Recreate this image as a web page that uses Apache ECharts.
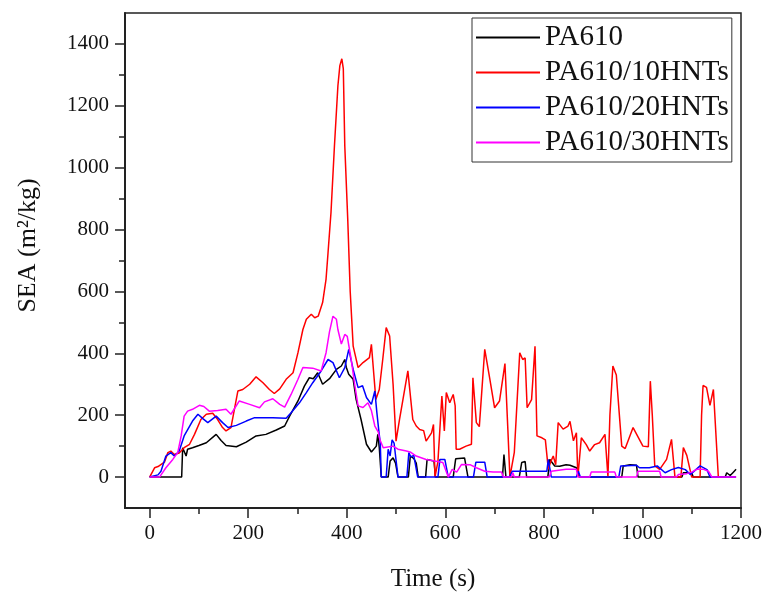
<!DOCTYPE html>
<html>
<head>
<meta charset="utf-8">
<script src="https://cdn.jsdelivr.net/npm/echarts@6/dist/echarts.min.js"></script>
<style>html,body{margin:0;padding:0;background:#fff;}#c{width:771px;height:604px;}</style>
</head>
<body>
<div id="c"></div>
<script>
var seriesNames = ['PA610', 'PA610/10HNTs', 'PA610/20HNTs', 'PA610/30HNTs'];
var xTicks = [0, 200, 400, 600, 800, 1000, 1200];
var yTicks = [0, 200, 400, 600, 800, 1000, 1200, 1400];

var tBlack = [0,65,67,74,77,87,100,115,135,145,155,176,196,216,236,257,274,284,301,314,324,332,341,351,365,379,389,396,399,404,413,419,429,440,450,460,463,466,470,484,488,494,499,504,525,529,536,541,545,560,563,577,580,616,621,639,646,716,719,723,750,755,762,765,808,812,822,832,845,853,866,872,958,961,975,988,991,1080,1083,1100,1103,1168,1171,1178,1184,1190];
var vBlack = [0,0,95,68,90,95,102,111,138,118,102,98,113,133,138,152,165,197,246,294,321,318,337,300,318,348,359,380,355,332,316,251,186,106,81,100,138,95,0,0,52,62,45,0,0,68,60,45,0,0,57,52,0,0,59,62,0,0,73,0,0,47,50,0,0,57,36,35,40,38,30,0,0,36,40,38,0,0,14,14,0,0,14,5,15,25];

var tRed = [0,3,10,17,30,37,43,50,60,70,81,91,104,115,128,138,148,155,165,172,179,189,203,216,230,243,253,264,277,291,301,311,318,328,335,342,351,358,362,368,375,382,386,390,393,396,402,407,413,423,433,446,450,455,459,466,473,480,487,494,500,507,514,524,534,541,548,556,561,572,576,579,585,593,598,602,609,616,620,622,629,642,653,656,663,669,680,690,700,710,721,727,731,740,751,757,762,766,775,782,786,796,803,809,814,819,824,829,839,849,853,860,866,869,876,886,893,903,913,924,930,934,940,947,958,965,981,1001,1012,1016,1020,1025,1035,1049,1059,1066,1078,1083,1090,1100,1117,1120,1123,1130,1137,1144,1148,1154,1190];
var vRed = [0,0,30,34,48,79,84,73,78,95,106,138,186,203,206,186,160,149,160,219,278,283,300,324,305,283,270,285,316,337,402,477,510,526,515,520,564,640,725,855,1070,1264,1330,1352,1320,1070,833,600,423,354,370,386,429,330,251,283,380,483,456,300,116,186,250,343,186,165,154,150,116,143,170,0,50,262,149,273,240,267,230,90,90,100,106,321,176,163,413,320,224,246,367,150,0,80,402,380,385,224,250,423,133,127,120,25,50,68,40,176,155,165,180,117,143,0,127,105,84,105,111,138,0,200,359,330,100,92,160,100,98,310,200,36,25,57,122,0,0,95,70,0,0,200,296,290,232,283,283,0,0];

var tBlue = [0,17,23,33,43,50,60,70,87,98,108,118,135,148,159,176,196,213,250,277,287,304,318,331,348,362,372,385,396,404,413,423,432,440,450,457,461,465,468,470,480,484,488,492,496,504,522,526,530,536,544,585,589,599,606,657,662,680,685,730,736,806,809,815,866,870,874,952,956,988,994,1014,1030,1046,1059,1073,1087,1097,1117,1131,1137,1190];
var vBlue = [0,7,19,68,79,68,84,133,181,203,189,176,197,176,160,167,181,192,192,190,208,240,273,305,343,380,370,321,354,413,348,289,295,257,235,278,210,150,110,0,0,90,68,120,110,0,0,79,65,70,0,0,57,57,0,0,48,48,0,0,19,19,57,0,0,19,0,0,36,38,30,30,36,14,24,31,24,8,36,24,0,0];

var tMag = [0,20,33,47,57,64,70,77,87,101,110,121,138,155,165,182,203,223,233,250,264,274,287,301,311,331,348,358,365,372,379,382,389,396,401,409,416,423,433,443,450,457,464,467,474,494,504,521,530,541,561,595,606,614,623,633,650,663,680,697,714,718,734,737,740,811,815,845,866,869,893,896,944,947,988,991,1035,1038,1069,1073,1090,1100,1110,1124,1134,1141,1190];
var vMag = [0,0,30,57,79,133,197,213,219,232,228,213,215,219,203,246,235,224,243,253,235,226,267,316,354,352,343,402,470,520,510,477,430,461,455,380,300,230,225,240,215,165,145,122,95,100,90,84,80,68,57,47,0,25,16,41,40,30,19,16,16,0,0,14,0,0,19,25,25,0,0,16,16,0,0,19,19,0,0,8,11,16,25,25,19,0,0];

function pairs(t, v) { var out = []; for (var i = 0; i < t.length; i++) out.push([t[i], v[i]]); return out; }

var font = 'Liberation Serif';
var chart = echarts.init(document.getElementById('c'), null, {renderer: 'canvas'});
var xMinor = [100, 300, 500, 700, 900, 1100];
var yMinor = [100, 300, 500, 700, 900, 1100, 1300];
var axisColor = '#222';
function plain(v) { return String(v); }

var colors = ['#000000', '#ff0000', '#0000ff', '#ff00ff'];
var dataSets = [pairs(tBlack, vBlack), pairs(tRed, vRed), pairs(tBlue, vBlue), pairs(tMag, vMag)];

var option = {
  animation: false,
  backgroundColor: '#ffffff',
  grid: {left: 125, right: 30, top: 13, bottom: 96, show: true, borderColor: axisColor, borderWidth: 1.5, backgroundColor: 'transparent'},
  legend: {
    orient: 'vertical', left: 472, top: 18,
    data: seriesNames,
    icon: 'rect',
    itemWidth: 64, itemHeight: 2, itemGap: 6,
    padding: [5, 3, 5, 4],
    borderColor: '#333', borderWidth: 1, backgroundColor: '#fff',
    textStyle: {fontFamily: font, fontSize: 29, color: '#111', lineHeight: 28}
  },
  xAxis: [{
    type: 'value', min: -50, max: 1200,
    axisLine: {show: true, onZero: false, lineStyle: {color: axisColor, width: 2}},
    axisTick: {show: true, inside: false, length: 10, customValues: xTicks, lineStyle: {color: axisColor, width: 1.5}},
    axisLabel: {customValues: xTicks, formatter: plain, margin: 15, fontFamily: font, fontSize: 21, color: '#111'},
    splitLine: {show: false},
    name: 'Time (s)', nameLocation: 'middle', nameGap: 59,
    nameTextStyle: {fontFamily: font, fontSize: 25, color: '#111'}
  }, {
    type: 'value', min: -50, max: 1200, position: 'bottom',
    axisLine: {show: false, onZero: false},
    axisTick: {show: true, inside: false, length: 6, customValues: xMinor, lineStyle: {color: axisColor, width: 1.5}},
    axisLabel: {show: false},
    splitLine: {show: false}
  }],
  yAxis: [{
    type: 'value', min: -100, max: 1500,
    axisLine: {show: true, onZero: false, lineStyle: {color: axisColor, width: 2}},
    axisTick: {show: true, inside: false, length: 10, customValues: yTicks, lineStyle: {color: axisColor, width: 1.5}},
    axisLabel: {customValues: yTicks, formatter: plain, margin: 16, fontFamily: font, fontSize: 21, color: '#111'},
    splitLine: {show: false},
    name: 'SEA (m\u00B2/kg)', nameLocation: 'middle', nameGap: 84, nameRotate: 90,
    nameTextStyle: {fontFamily: font, fontSize: 26, color: '#111', padding: [0, 0, 0, 30]}
  }, {
    type: 'value', min: -100, max: 1500, position: 'left',
    axisLine: {show: false, onZero: false},
    axisTick: {show: true, inside: false, length: 6, customValues: yMinor, lineStyle: {color: axisColor, width: 1.5}},
    axisLabel: {show: false},
    splitLine: {show: false}
  }],
  series: seriesNames.map(function (n, i) {
    return {
      name: n, type: 'line', data: dataSets[i], xAxisIndex: 0, yAxisIndex: 0,
      symbol: 'none', showSymbol: false,
      lineStyle: {color: colors[i], width: 1.5}, itemStyle: {color: colors[i]},
      z: [2, 3, 4, 5][i]
    };
  })
};
chart.setOption(option);
</script>
</body>
</html>
